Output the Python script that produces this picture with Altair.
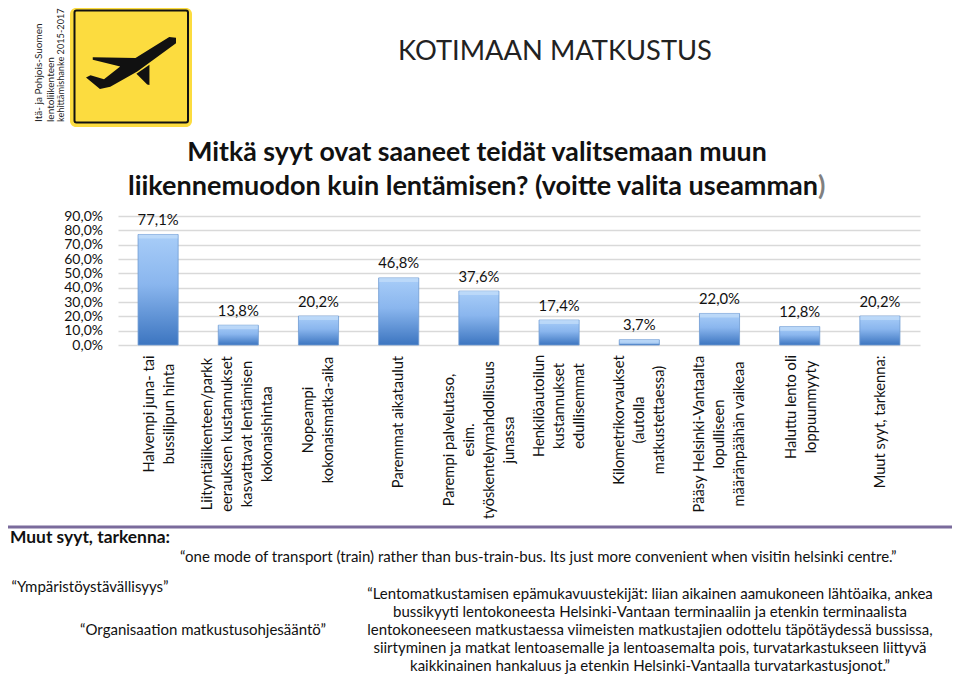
import altair as alt
import pandas as pd

categories = [
    "Halvempi juna- tai|bussilipun hinta",
    "Liityntäliikenteen/parkk|eerauksen kustannukset|kasvattavat lentämisen|kokonaishintaa",
    "Nopeampi|kokonaismatka-aika",
    "Paremmat aikataulut",
    "Parempi palvelutaso,|esim.|työskentelymahdollisuus|junassa",
    "Henkilöautoilun|kustannukset|edullisemmat",
    "Kilometrikorvaukset|(autolla|matkustettaessa)",
    "Pääsy Helsinki-Vantaalta|lopulliseen|määränpäähän vaikeaa",
    "Haluttu lento oli|loppuunmyyty",
    "Muut syyt, tarkenna:",
]
values = [77.1, 13.8, 20.2, 46.8, 37.6, 17.4, 3.7, 22.0, 12.8, 20.2]

logo_lines = ["Itä- ja Pohjois-Suomen", "lentoliikenteen", "kehittämishanke 2015-2017"]
main_title = "KOTIMAAN MATKUSTUS"
question_1 = "Mitkä syyt ovat saaneet teidät valitsemaan muun"
question_2 = "liikennemuodon kuin lentämisen? (voitte valita useamman"
other_head = "Muut syyt, tarkenna:"
quote_train = "“one mode of transport (train) rather than bus-train-bus. Its just more convenient when visitin helsinki centre.”"
quote_env = "“Ympäristöystävällisyys”"
quote_org = "“Organisaation matkustusohjesääntö”"
quote_long = [
    "“Lentomatkustamisen epämukavuustekijät: liian aikainen aamukoneen lähtöaika, ankea",
    "bussikyyti lentokoneesta Helsinki-Vantaan terminaaliin ja etenkin terminaalista",
    "lentokoneeseen matkustaessa viimeisten matkustajien odottelu täpötäydessä bussissa,",
    "siirtyminen ja matkat lentoasemalle ja lentoasemalta pois, turvatarkastukseen liittyvä",
    "kaikkinainen hankaluus ja etenkin Helsinki-Vantaalla turvatarkastusjonot.”",
]

FONT = "Lato"
X0, Y0 = 118, 216          # page position of the plot area
LINE_STEP = 20
label_centres = [414, 434, 420, 422, 440, 406, 420, 434, 407, 422]
label_nudges = [2, 0, 0, 0, 1, 1, 1, 0, 2, 1]

df = pd.DataFrame({
    "cat": categories,
    "value": values,
    "label": [f"{v:.1f}".replace(".", ",") + "%" for v in values],
})

rows = []
for cat, centre, nudge in zip(categories, label_centres, label_nudges):
    parts = cat.split("|")
    for i, part in enumerate(parts):
        rows.append({"cat": cat, "line": part, "ypx": centre - Y0,
                     "off": (i - (len(parts) - 1) / 2) * LINE_STEP + nudge})
lines_df = pd.DataFrame(rows)

x_enc = alt.X("cat:N", axis=None,
              scale=alt.Scale(domain=categories, paddingInner=0.5, paddingOuter=0.25))
y_enc = alt.Y("value:Q", scale=alt.Scale(domain=[0, 90], nice=False), title=None, axis=alt.Axis(
    values=list(range(0, 100, 10)), domain=False, ticks=False, labelOverlap=False,
    grid=True, gridColor="#d9d9d9", gridWidth=1.6, labelFont=FONT, labelFontSize=14,
    labelColor="#111111", labelPadding=15.5,
    labelExpr="replace(format(datum.value,'.1f'),'.',',')+'%'"))

bar_gradient = alt.LinearGradient(
    gradient="linear", x1=0, x2=0, y1=0, y2=1,
    stops=[alt.GradientStop(offset=0, color="#a8cdf8"),
           alt.GradientStop(offset=0.45, color="#8ab6ee"),
           alt.GradientStop(offset=1, color="#3c75c0")])

bars = alt.Chart(df).mark_bar(color=bar_gradient, stroke="#6f9ad2", strokeWidth=0.8).encode(
    x=x_enc, y=y_enc)

bevel = alt.Chart(df).mark_tick(color="#c4def9", thickness=4, size=39, yOffset=2).encode(
    x=x_enc, y=y_enc)

value_labels = alt.Chart(df).mark_text(
    font=FONT, fontSize=14.8, color="#111111", dy=-13.5, baseline="middle"
).encode(x=x_enc, y=y_enc, text="label:N")

cat_labels = [
    alt.Chart(lines_df[lines_df["off"] == d]).mark_text(
        font=FONT, fontSize=14.7, color="#111111", angle=270, align="center",
        baseline="middle", dy=d
    ).encode(x=x_enc, y=alt.Y("ypx:Q", scale=None), text="line:N")
    for d in sorted(lines_df["off"].unique())
]


def note(text, x, y, size=14, weight="normal", align="center", angle=0, color="#111111", font=FONT):
    return alt.Chart(alt.Data(values=[{"t": text}])).mark_text(
        font=font, fontSize=size, fontWeight=weight, align=align, baseline="middle",
        angle=angle, color=color
    ).encode(x=alt.value(x - X0), y=alt.value(y - Y0), text="t:N")


def box(x1, x2, y1, y2, **kw):
    return alt.Chart(alt.Data(values=[{}])).mark_rect(**kw).encode(
        x=alt.value(x1 - X0), x2=alt.value(x2 - X0),
        y=alt.value(y1 - Y0), y2=alt.value(y2 - Y0))


plane_body = ("M1 -.56 L.85 -.58 L.1 -.11 L-.85 -.13 L-.85 -.07 L-.24 .08 L-.6 .36 "
              "L-.9 .27 L-1 .32 L-.69 .58 L-.46 .53 L.14 .19 L1 -.44 Z")
plane_tail = "M.41 .04 L.12 .24 L.36 .48 L.41 .49 Z"

plane = [
    alt.Chart(alt.Data(values=[{}])).mark_point(
        shape=p, size=8100, filled=True, color="#111111", opacity=1, strokeWidth=0
    ).encode(x=alt.value(131 - X0), y=alt.value(63 - Y0))
    for p in (plane_body, plane_tail)
]

logo = [
    box(70, 192, 8, 127, color="#fcdc3f", cornerRadius=6),
    box(74.5, 188, 10.5, 122.5, fill="#fcdc3f", stroke="#111111", strokeWidth=2, cornerRadius=2),
    *plane,
    note(logo_lines[0], 39, 122, size=10, align="left", angle=270, color="#222222"),
    note(logo_lines[1], 51, 122, size=10, align="left", angle=270, color="#222222"),
    note(logo_lines[2], 61, 122, size=9.2, align="left", angle=270, color="#222222"),
]

texts = [
    note(main_title, 555, 52, size=27.3, color="#222222"),
    note(question_1, 477, 153, size=26.7, weight="bold"),
    note(question_2, 818, 187, size=27, weight="bold", align="right"),
    note(")", 818, 187, size=27, weight="bold", align="left", color="#808080"),
    note(other_head, 10, 538, size=17.4, weight="bold", align="left"),
    note(quote_train, 180, 557, size=15, align="left"),
    note(quote_env, 90, 587, size=15),
    note(quote_org, 203, 630, size=15),
]
texts += [note(line, 650, y, size=15) for line, y in zip(quote_long, [594, 612, 630, 648, 666])]

rule = alt.Chart(alt.Data(values=[{}])).mark_rule(color="#7a6b9c", strokeWidth=3).encode(
    x=alt.value(8 - X0), x2=alt.value(952 - X0), y=alt.value(527 - Y0))

chart = alt.layer(bars, bevel, value_labels, *cat_labels, rule, *logo, *texts).properties(
    width=802, height=129,
    autosize=alt.AutoSizeParams(type="none"),
    padding={"left": X0 - 8, "top": Y0 - 8, "right": 32, "bottom": 329},
    background="white",
).configure_view(stroke=None)

chart.save("out.html", embed_options={"renderer": "svg", "actions": False})
